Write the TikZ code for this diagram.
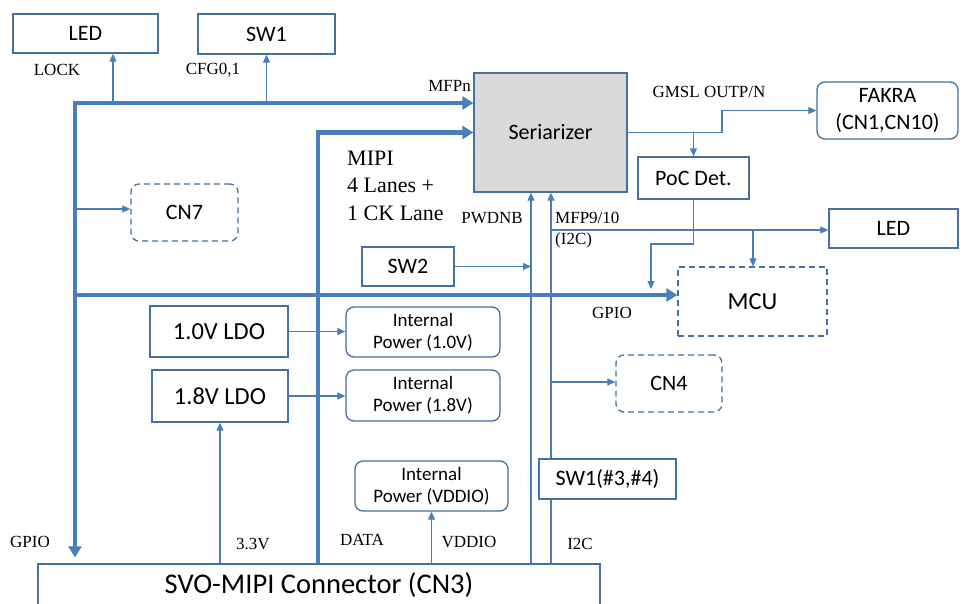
\documentclass[tikz,border=0pt]{standalone}
\usepackage{fontspec}
\setmainfont{Liberation Serif}
\newfontfamily\boxfont{Carlito}
\usetikzlibrary{arrows.meta,backgrounds}
\definecolor{ln}{RGB}{74,126,187}
\definecolor{bd}{RGB}{65,113,156}
\definecolor{sergray}{RGB}{217,217,217}
\tikzset{
 box/.style={draw=bd, line width=1.3pt, fill=white, inner sep=0pt, align=center, text=black,
   font=\boxfont\fontsize{22}{27}\selectfont},
 rbox/.style={box, rounded corners=8pt},
 dbox/.style={box, dash pattern=on 6pt off 4pt},
 sig/.style={draw=ln, line width=1.2pt, arrows={-Triangle[length=8pt,width=7pt]}},
 bus/.style={draw=ln, line width=4.2pt, arrows={-Triangle[length=11pt,width=13pt]}},
 busboth/.style={draw=ln, line width=4.2pt,
   arrows={Triangle[length=11pt,width=13pt]-Triangle[length=11pt,width=13pt]}},
 lbl/.style={font=\fontsize{17}{20}\selectfont, inner sep=0pt, text=black},
 mipi/.style={font=\fontsize{22}{27}\selectfont, inner sep=0pt, text=black, anchor=west},
}
\begin{document}
\begin{tikzpicture}[x=1pt,y=-1pt]
\useasboundingbox (0,0) rectangle (962,603);
% boxes
\node[box, minimum width=145pt, minimum height=39pt] (ledA) at (85.5,33.5) {LED};
\node[box, minimum width=137pt, minimum height=40pt] (sw1) at (266.5,34) {SW1};
\node[box, fill=sergray, minimum width=153pt, minimum height=119pt] (ser) at (550.5,132.5) {Seriarizer};
\node[rbox, minimum width=141pt, minimum height=57pt] (fakra) at (887.5,110.5) {FAKRA\\(CN1,CN10)};
\node[box, minimum width=111pt, minimum height=42pt] (poc) at (693.5,178) {PoC Det.};
\node[dbox, rounded corners=8pt, minimum width=107pt, minimum height=57pt] (cn7) at (184.5,212.5) {CN7};
\node[box, minimum width=92pt, minimum height=39pt] (sw2) at (408,266.5) {SW2};
\node[box, minimum width=129pt, minimum height=39pt] (ledB) at (893.5,228.5) {LED};
\node[dbox, minimum width=149pt, minimum height=69pt, font=\boxfont\fontsize{24.5}{28}\selectfont] (mcu) at (752.5,301.5) {MCU};
\node[box, minimum width=138pt, minimum height=51pt, font=\boxfont\fontsize{24.5}{28}\selectfont] (ldo1) at (219,331.5) {1.0V LDO};
\node[box, minimum width=136pt, minimum height=52pt, font=\boxfont\fontsize{24.5}{28}\selectfont] (ldo2) at (220,396) {1.8V LDO};
\node[rbox, minimum width=154pt, minimum height=50pt, font=\boxfont\fontsize{19}{22}\selectfont] (ip1) at (423,332) {Internal\\Power (1.0V)};
\node[rbox, minimum width=154pt, minimum height=51pt, font=\boxfont\fontsize{19}{22}\selectfont] (ip2) at (423,395.5) {Internal\\Power (1.8V)};
\node[dbox, rounded corners=8pt, minimum width=106pt, minimum height=57pt] (cn4) at (669,383.5) {CN4};
\node[rbox, minimum width=153pt, minimum height=50pt, font=\boxfont\fontsize{19}{22}\selectfont] (ipv) at (431.5,486) {Internal\\Power (VDDIO)};
\node[box, minimum width=137pt, minimum height=40pt] (sw1b) at (607.5,479) {SW1(\#3,\#4)};
\node[box, minimum width=562pt, minimum height=42pt, font=\boxfont\fontsize{28.5}{32}\selectfont] (cn3) at (319,585) {SVO-MIPI Connector (CN3)};
% helper coordinates
\coordinate (tl) at (75,103);
\coordinate (gp) at (75,295);
\coordinate (c7) at (75,209);
\coordinate (lk) at (113,103);
\coordinate (mx) at (318,133);
\coordinate (gm) at (722,133);
\coordinate (pw) at (531,0);
\coordinate (mf) at (551,230);
\coordinate (mb) at (753,230);
\coordinate (pk) at (651,244);
\coordinate (pe) at (651,289);
\coordinate (c4) at (551,382);
% connectors
\begin{pgfonlayer}{background}
\draw[busboth, shorten >=6pt] (ser.west |- tl) -- (tl) -- (cn3.north -| tl);
\draw[bus] (cn3.north -| mx) |- (ser.west);
\draw[bus] (gp) -- (gp -| mcu.west);
\draw[sig] (lk) -- (lk |- ledA.south);
\draw[sig] (tl -| sw1.south) -- (sw1.south);
\draw[sig] (c7) -- (c7 -| cn7.west);
\draw[sig] (ser.east) -- (ser.east -| gm) |- (fakra.west);
\draw[sig] (ser.east -| poc.north) -- (poc.north);
\draw[sig] (poc.south) |- (pk) -- (pe);
\draw[sig] (cn3.north -| pw) -- (ser.south -| pw);
\draw[sig] (cn3.north -| mf) -- (ser.south -| mf);
\draw[sig] (sw2.east) -- (sw2.east -| pw);
\draw[sig] (mf) -- (mf -| ledB.west);
\draw[sig] (mb) -- (mb |- mcu.north);
\draw[sig] (c4) -- (c4 -| cn4.west);
\draw[sig] (ldo1.east) -- (ldo1.east -| ip1.west);
\draw[sig] (ldo2.east) -- (ldo2.east -| ip2.west);
\draw[sig] (cn3.north -| ldo2.south) -- (ldo2.south);
\draw[sig] (cn3.north -| ipv.south) -- (ipv.south);
\end{pgfonlayer}
% labels
\node[lbl] (lLock) at (57,70) {LOCK};
\node[lbl] (lCfg) at (213,70) {CFG0,1};
\node[lbl, anchor=east] (lMfpn) at (471,86) {MFPn};
\node[mipi] (lMipiA) at (347,158) {MIPI};
\node[mipi] (lMipiB) at (347,185) {4 Lanes +};
\node[mipi] (lMipiC) at (347,213) {1 CK Lane};
\node[lbl] (lGmsl) at (709,92) {GMSL OUTP/N};
\node[lbl, anchor=east] (lPwd) at (523,218) {PWDNB};
\node[lbl, anchor=west] (lMfp) at (555,218) {MFP9/10};
\node[lbl, anchor=west] (lI2ca) at (555,240) {(I2C)};
\node[lbl] (lGpioA) at (612,313) {GPIO};
\node[lbl] (lGpioB) at (30,542) {GPIO};
\node[lbl] (l33) at (253,544) {3.3V};
\node[lbl] (lData) at (362,540) {DATA};
\node[lbl] (lVddio) at (469,542) {VDDIO};
\node[lbl] (lI2cb) at (580,544) {I2C};
\end{tikzpicture}
\end{document}
